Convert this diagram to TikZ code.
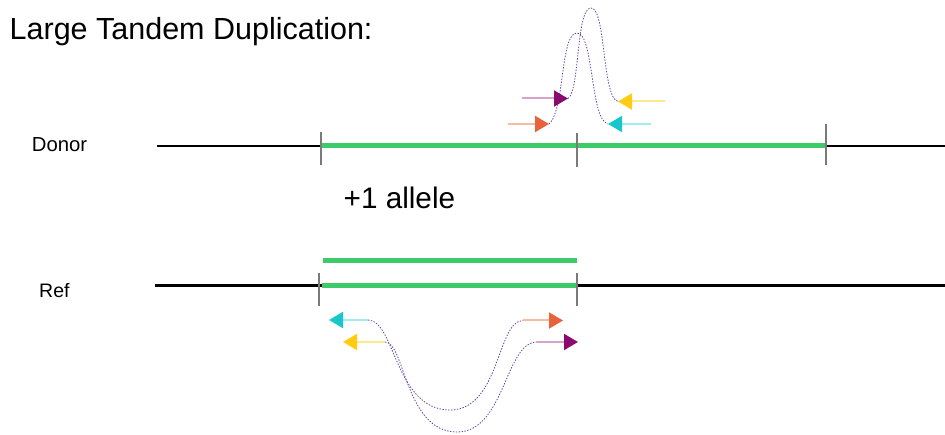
\documentclass[tikz,border=0pt]{standalone}
\usepackage{fontspec}
\setmainfont{Liberation Sans}
\usetikzlibrary{arrows.meta}
\definecolor{dupgreen}{HTML}{3CCB68}
\definecolor{tickgray}{HTML}{7A7A7A}
\definecolor{probec}{HTML}{5E43A0}
\definecolor{orH}{HTML}{E8623A}\definecolor{orL}{HTML}{F6BBA5}
\definecolor{puH}{HTML}{8B0A6E}\definecolor{puL}{HTML}{D6A3CB}
\definecolor{yeH}{HTML}{FFCC12}\definecolor{yeL}{HTML}{FFE98E}
\definecolor{cyH}{HTML}{17C7CB}\definecolor{cyL}{HTML}{A3ECEE}
\begin{document}
\begin{tikzpicture}[x=1pt,y=-1pt,
  backbone/.style={line width=2.7pt, draw=black},
  dupseg/.style={line width=5pt, draw=dupgreen},
  tickmark/.style={line width=1.1pt, draw=tickgray},
  primer/.style 2 args={line width=2pt, draw=#1, -{Triangle[length=14pt,width=16pt,color=#2]}},
  probe/.style={draw=probec, line width=0.8pt, dash pattern=on 1.4pt off 1.5pt},
  lbl/.style={inner sep=0pt, anchor=base west}]
\useasboundingbox (0,0) rectangle (945,435);

% texts
\node[lbl, font=\fontsize{30.5}{33}\selectfont] (title) at (9.5,39.5) {Large Tandem Duplication:};
\node[lbl, font=\fontsize{20.3}{22}\selectfont] (donor) at (31.7,151.7) {Donor};
\node[lbl, font=\fontsize{19.5}{22}\selectfont] (ref) at (39,298) {Ref};
\node[lbl, font=\fontsize{29.7}{32}\selectfont] (allele) at (343.5,209) {+1 allele};

% Donor
\coordinate (dL) at (157,146); \coordinate (dR) at (945,146);
\coordinate (dg1) at (321,145.5); \coordinate (dg2) at (826,145.5);
\draw[backbone] (dL) -- (dR);
\draw[dupseg] (dg1) -- (dg2);
\coordinate (t1a) at (321,132); \coordinate (t1b) at (321,165);
\coordinate (t2a) at (577,133); \coordinate (t2b) at (577,167);
\coordinate (t3a) at (826,124); \coordinate (t3b) at (826,165);
\draw[tickmark] (t1a) -- (t1b);
\draw[tickmark] (t2a) -- (t2b);
\draw[tickmark] (t3a) -- (t3b);

\coordinate (oT) at (508,124);   \coordinate (oH) at (549,124);
\coordinate (pT) at (522,98.5);  \coordinate (pH) at (568,98.5);
\coordinate (yT) at (665,101.5); \coordinate (yH) at (618,101.5);
\coordinate (cT) at (651,124);   \coordinate (cH) at (608,124);
\coordinate (pk1) at (577,33); \coordinate (pk2) at (591,8);
\draw[probe] (oH) .. controls (565,110) and (560,33) .. (pk1) .. controls (594,33) and (590,120) .. (cH);
\draw[probe] (pH) .. controls (580,90) and (576,8) .. (pk2) .. controls (606,8) and (602,98) .. (yH);
\draw[primer={orL}{orH}] (oT) -- (oH);
\draw[primer={puL}{puH}] (pT) -- (pH);
\draw[primer={yeL}{yeH}] (yT) -- (yH);
\draw[primer={cyL}{cyH}] (cT) -- (cH);

% Ref
\coordinate (rL) at (155,285.5); \coordinate (rR) at (945,285.5);
\coordinate (rg1) at (321.5,285.3); \coordinate (rg2) at (577,285.3);
\coordinate (ug1) at (323,260.5); \coordinate (ug2) at (577,260.5);
\draw[backbone] (rL) -- (rR);
\draw[dupseg] (rg1) -- (rg2);
\draw[dupseg, line width=4.7pt] (ug1) -- (ug2);
\coordinate (r1a) at (319,273); \coordinate (r1b) at (319,306);
\coordinate (r2a) at (577,273); \coordinate (r2b) at (577,306);
\draw[tickmark] (r1a) -- (r1b);
\draw[tickmark] (r2a) -- (r2b);

\coordinate (rcT) at (368,320);   \coordinate (rcH) at (329,320);
\coordinate (ryT) at (385,342);   \coordinate (ryH) at (343,342);
\coordinate (roT) at (523,320.5); \coordinate (roH) at (563,320.5);
\coordinate (rpT) at (537,342);   \coordinate (rpH) at (578,342);
\coordinate (tr1) at (450,410); \coordinate (tr2) at (457,432);
\draw[probe] (rcT) .. controls (395,320) and (395,410) .. (tr1) .. controls (500,410) and (497,320.5) .. (roT);
\draw[probe] (ryT) .. controls (405,342) and (405,432) .. (tr2) .. controls (505,432) and (505,342) .. (rpT);
\draw[primer={cyL}{cyH}] (rcT) -- (rcH);
\draw[primer={yeL}{yeH}] (ryT) -- (ryH);
\draw[primer={orL}{orH}] (roT) -- (roH);
\draw[primer={puL}{puH}] (rpT) -- (rpH);
\end{tikzpicture}
\end{document}
